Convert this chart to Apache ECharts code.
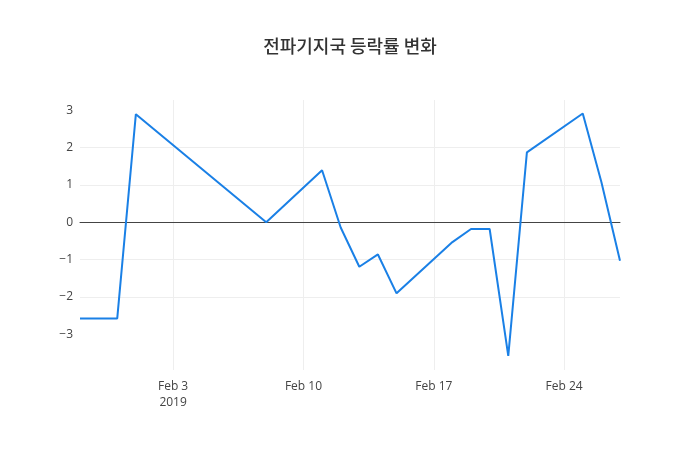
<!DOCTYPE html>
<html>
<head>
<meta charset="utf-8">
<script src="https://cdn.jsdelivr.net/npm/echarts@6/dist/echarts.min.js"></script>
<style>
html,body{margin:0;padding:0;background:#fff;}
#chart{width:700px;height:450px;}
</style>
</head>
<body>
<div id="chart"></div>
<script>
const titleText = '전파기지국 등락률 변화';
const dates = ['2019-01-29','2019-01-31','2019-02-01','2019-02-08','2019-02-11','2019-02-12','2019-02-13','2019-02-14','2019-02-15','2019-02-18','2019-02-19','2019-02-20','2019-02-21','2019-02-22','2019-02-25','2019-02-26','2019-02-27'];
const values = [-2.57,-2.57,2.89,0.0,1.39,-0.14,-1.19,-0.86,-1.90,-0.53,-0.18,-0.18,-3.57,1.87,2.91,1.08,-1.03];
const xTickDates = ['2019-02-03','2019-02-10','2019-02-17','2019-02-24'];
const yTicks = [-3,-2,-1,0,1,2,3];
const xMin = '2019-01-29', xMax = '2019-02-27';
const yMin = -3.95, yMax = 3.27;

function ts(s){ const p = s.split('-').map(Number); return new Date(p[0], p[1]-1, p[2]).getTime(); }
const months = ['Jan','Feb','Mar','Apr','May','Jun','Jul','Aug','Sep','Oct','Nov','Dec'];
const xTickVals = xTickDates.map(ts);

const chart = echarts.init(document.getElementById('chart'));
chart.setOption({
  animation: false,
  backgroundColor: '#fff',
  title: {
    text: titleText, left: 'center', top: 32,
    textStyle: { fontFamily: '"Noto Sans CJK KR","Open Sans",sans-serif', fontSize: 18, fontWeight: 500, color: '#333' }
  },
  grid: { left: 80, right: 80, top: 100, bottom: 80 },
  xAxis: {
    type: 'value',
    min: ts(xMin), max: ts(xMax),
    axisLine: { show: true, onZero: true, lineStyle: { color: '#444', width: 1 } },
    axisTick: { show: false, customValues: xTickVals },
    axisLabel: {
      customValues: xTickVals,
      color: '#444', fontSize: 12, fontFamily: '"Open Sans",sans-serif', margin: 9, lineHeight: 16,
      formatter: function (v) {
        const d = new Date(v);
        const s = months[d.getMonth()] + ' ' + d.getDate();
        return v === xTickVals[0] ? s + '\n' + d.getFullYear() : s;
      }
    },
    splitLine: { show: true, lineStyle: { color: '#eee', width: 1 } }
  },
  yAxis: {
    type: 'value',
    min: yMin, max: yMax,
    axisLine: { show: false },
    axisTick: { show: false, customValues: yTicks },
    axisLabel: {
      customValues: yTicks,
      color: '#444', fontSize: 12, fontFamily: '"Open Sans",sans-serif', margin: 7,
      formatter: function (v) { return String(v).replace('-', '\u2212'); }
    },
    splitLine: { show: true, showMinLine: false, showMaxLine: false, lineStyle: { color: '#eee', width: 1 } }
  },
  series: [{
    type: 'line',
    data: dates.map((d, i) => [ts(d), values[i]]),
    showSymbol: false,
    lineStyle: { color: '#1a80e6', width: 2 },
    itemStyle: { color: '#1a80e6' },
    z: 3
  }]
});
</script>
</body>
</html>
